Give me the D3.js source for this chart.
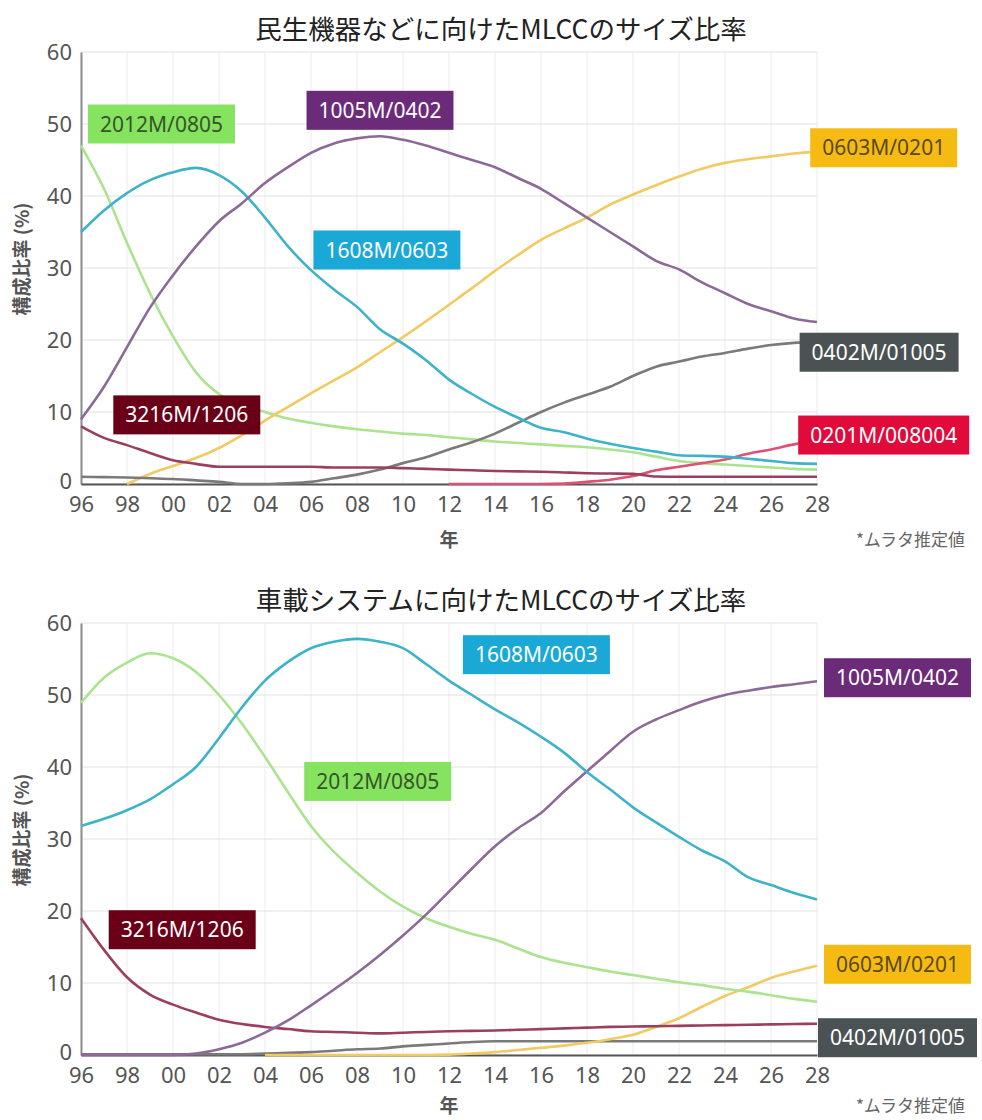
<!DOCTYPE html>
<html>
<head>
<meta charset="utf-8">
<script src="https://cdn.jsdelivr.net/npm/d3@7.9.0/dist/d3.min.js"></script>
<style>
  body { margin: 0; background: #fff; }
  svg { display: block; }
  text { font-family: "Noto Sans", "Noto Sans CJK JP", sans-serif; }
  .jp { font-family: "Noto Sans CJK JP", sans-serif; }
</style>
</head>
<body>
<svg id="chart" width="982" height="1120"></svg>
<script>
// years 1996 .. 2028
const years = d3.range(1996, 2029);
const xTicks = d3.range(1996, 2029, 2);
const yTicks = [0, 10, 20, 30, 40, 50, 60];

// 民生機器 (consumer) shares, %
const consumer2012 = [47, 41, 33.5, 26.5, 20.5, 15.5, 12.5, 11, 10, 9.1, 8.5, 8, 7.6, 7.3, 7, 6.8, 6.5, 6.2, 5.9, 5.7, 5.5, 5.3, 5.1, 4.8, 4.4, 3.8, 3.2, 2.9, 2.7, 2.5, 2.3, 2.1, 2.0];
const consumer1608 = [35, 38, 40.4, 42.2, 43.3, 43.9, 42.9, 40.6, 37, 33, 29.7, 27, 24.6, 21.5, 19.5, 17.2, 14.5, 12.5, 10.7, 9.2, 7.8, 7.2, 6.3, 5.6, 5.0, 4.5, 4.0, 3.9, 3.8, 3.5, 3.2, 2.9, 2.8];
const consumer1005 = [9, 13.5, 19, 24.5, 29, 33, 36.5, 39, 41.8, 44, 46, 47.3, 48, 48.3, 47.8, 47, 46, 45, 44, 42.5, 41, 39, 37, 35, 33, 31, 29.8, 28, 26.5, 25, 24, 23, 22.5];
const consumer0603 = [null, null, 0, 1.4, 2.5, 3.6, 5.0, 6.8, 8.8, 10.7, 12.6, 14.4, 16.2, 18.3, 20.4, 22.6, 24.9, 27.2, 29.6, 31.8, 33.9, 35.5, 37, 38.8, 40.2, 41.5, 42.7, 43.8, 44.6, 45.1, 45.5, 45.9, 46.2];
const consumer3216 = [8, 6.4, 5.4, 4.3, 3.3, 2.8, 2.4, 2.4, 2.4, 2.4, 2.4, 2.3, 2.3, 2.3, 2.2, 2.1, 2.0, 1.9, 1.8, 1.75, 1.7, 1.6, 1.5, 1.45, 1.4, 1.05, 1.0, 1.0, 1.0, 1.0, 1.0, 1.0, 1.0];
const consumer0402 = [1.0, 0.95, 0.9, 0.8, 0.7, 0.5, 0.3, 0, 0, 0.1, 0.3, 0.8, 1.3, 2.0, 2.9, 3.7, 4.8, 5.8, 7.0, 8.5, 10.0, 11.3, 12.4, 13.5, 15, 16.3, 17, 17.7, 18.2, 18.8, 19.3, 19.6, 19.7];
const consumer0201 = [null, null, null, null, null, null, null, null, null, null, null, null, null, null, null, null, 0, 0, 0, 0, 0, 0.05, 0.3, 0.6, 1.1, 1.9, 2.4, 2.9, 3.4, 4.2, 4.8, 5.5, 6.0];

// 車載システム (automotive) shares, %
const auto2012 = [48.9, 52.4, 54.5, 55.8, 55.1, 53.2, 50, 46, 41.4, 36.5, 31.8, 28.2, 25.3, 22.7, 20.6, 19, 17.8, 16.8, 16, 14.8, 13.6, 12.8, 12.2, 11.6, 11.1, 10.6, 10.1, 9.7, 9.2, 8.8, 8.3, 7.8, 7.4];
const auto1608 = [31.8, 32.8, 34, 35.5, 37.6, 40, 44, 48.3, 52, 54.6, 56.5, 57.4, 57.8, 57.4, 56.5, 54.3, 52, 50, 48, 46.2, 44.2, 42, 39.3, 36.9, 34.4, 32.3, 30.3, 28.4, 26.9, 24.7, 23.6, 22.5, 21.6];
const auto1005 = [0, 0, 0, 0, 0, 0.2, 0.8, 1.7, 3.1, 4.8, 6.9, 9.1, 11.4, 13.9, 16.6, 19.5, 22.7, 25.9, 29, 31.5, 33.6, 36.6, 39.4, 42.2, 44.9, 46.6, 47.9, 49.1, 50, 50.6, 51.1, 51.5, 51.9];
const auto3216 = [19, 14.6, 10.8, 8.4, 7, 5.9, 4.9, 4.3, 3.9, 3.6, 3.3, 3.2, 3.1, 3.0, 3.1, 3.2, 3.3, 3.35, 3.4, 3.5, 3.6, 3.7, 3.8, 3.9, 3.95, 4.0, 4.05, 4.1, 4.15, 4.2, 4.25, 4.3, 4.35];
const auto0603 = [null, null, null, null, null, null, null, null, 0, 0, 0, 0, 0, 0, 0, 0, 0.05, 0.2, 0.4, 0.7, 1.0, 1.3, 1.7, 2.2, 2.8, 3.9, 5.1, 6.7, 8.2, 9.4, 10.7, 11.6, 12.4];
const auto0402 = [0.1, 0.1, 0.1, 0.1, 0.1, 0.1, 0.1, 0.1, 0.2, 0.3, 0.4, 0.6, 0.8, 0.9, 1.2, 1.4, 1.6, 1.8, 1.9, 1.9, 1.9, 1.9, 1.9, 1.9, 1.9, 1.9, 1.9, 1.9, 1.9, 1.9, 1.9, 1.9, 1.9];

// size names and colours
const sizes = {
  s2012: { name: "2012M/0805", line: "#abe38f", box: "#86e35f", text: "#35552a" },
  s1608: { name: "1608M/0603", line: "#3db3c9", box: "#1aa8d6", text: "#fff" },
  s1005: { name: "1005M/0402", line: "#8b6a97", box: "#6b2b78", text: "#fff" },
  s0603: { name: "0603M/0201", line: "#f0cb62", box: "#f6bb12", text: "#5a4a1a" },
  s3216: { name: "3216M/1206", line: "#9b3f5f", box: "#6a0018", text: "#fff" },
  s0402: { name: "0402M/01005", line: "#7a7a7a", box: "#4b5254", text: "#fff" },
  s0201: { name: "0201M/008004", line: "#dd5272", box: "#e20a3b", text: "#fff" }
};

const charts = [
  {
    title: "民生機器などに向けたMLCCのサイズ比率",
    top: 52,
    footY: 547,
    series: [
      ["s2012", consumer2012], ["s0603", consumer0603], ["s0402", consumer0402],
      ["s0201", consumer0201], ["s3216", consumer3216], ["s1608", consumer1608], ["s1005", consumer1005]
    ],
    // label centres in chart units [year, value]
    labels: [
      ["s2012", 1999.5, 50], ["s1005", 2009.0, 51.9], ["s1608", 2009.3, 32.5],
      ["s0603", 2030.9, 46.7], ["s3216", 2000.6, 9.6], ["s0402", 2030.7, 18.3], ["s0201", 2030.9, 6.8]
    ]
  },
  {
    title: "車載システムに向けたMLCCのサイズ比率",
    top: 623,
    footY: 1113,
    series: [
      ["s0402", auto0402], ["s0603", auto0603], ["s3216", auto3216],
      ["s2012", auto2012], ["s1005", auto1005], ["s1608", auto1608]
    ],
    labels: [
      ["s1608", 2015.8, 55.6], ["s1005", 2031.5, 52.4], ["s2012", 2008.9, 38],
      ["s3216", 2000.4, 17.4], ["s0603", 2031.5, 12.6], ["s0402", 2031.5, 2.4]
    ]
  }
];

const svg = d3.select("#chart");
const plotH = 432;
const x = d3.scaleLinear().domain([1996, 2028]).range([81, 817]);

charts.forEach(chart => {
  const y = d3.scaleLinear().domain([0, 60]).range([chart.top + plotH, chart.top]);
  const g = svg.append("g");

  // grid
  g.append("g").selectAll("line").data(xTicks).join("line")
    .attr("x1", d => x(d)).attr("x2", d => x(d))
    .attr("y1", y(60)).attr("y2", y(0))
    .attr("stroke", "#ececec").attr("stroke-width", 1);
  g.append("g").selectAll("line").data(yTicks).join("line")
    .attr("x1", x(1996)).attr("x2", x(2028))
    .attr("y1", d => y(d)).attr("y2", d => y(d))
    .attr("stroke", "#e2e2e2").attr("stroke-width", 1);

  // axes
  const yAxis = g.append("g")
    .attr("transform", `translate(${x(1996)},0)`)
    .call(d3.axisLeft(y).tickValues(yTicks).tickSize(0).tickPadding(9));
  yAxis.select(".domain").attr("stroke", "#8c8c8c").attr("stroke-width", 2);
  yAxis.selectAll("text").attr("font-size", 22).attr("fill", "#555")
    .style("font-family", "'Noto Sans', sans-serif");
  yAxis.selectAll(".tick").filter(d => d === 0).select("text").attr("dy", "0.2em");

  const xAxis = g.append("g")
    .attr("transform", `translate(0,${y(0)})`)
    .call(d3.axisBottom(x).tickValues(xTicks).tickSize(0).tickPadding(12)
      .tickFormat(d => String(d % 100).padStart(2, "0")));
  xAxis.select(".domain").attr("stroke", "#555").attr("stroke-width", 2);
  xAxis.selectAll("text").attr("font-size", 22).attr("fill", "#555")
    .style("font-family", "'Noto Sans', sans-serif");

  // lines
  const line = d3.line()
    .defined(d => d[1] != null)
    .x(d => x(d[0]))
    .y(d => y(d[1]))
    .curve(d3.curveMonotoneX);

  chart.series.forEach(([key, vals]) => {
    g.append("path")
      .datum(years.map((yr, i) => [yr, vals[i]]))
      .attr("d", line)
      .attr("fill", "none")
      .attr("stroke", sizes[key].line)
      .attr("stroke-width", 2.6)
      .attr("stroke-linejoin", "round");
  });

  // labels
  chart.labels.forEach(([key, yr, v]) => {
    const s = sizes[key];
    const lg = g.append("g");
    const t = lg.append("text")
      .attr("x", x(yr)).attr("y", y(v))
      .attr("text-anchor", "middle").attr("dy", "0.36em")
      .attr("font-size", 21).attr("fill", s.text)
      .text(s.name);
    const w = t.node().getComputedTextLength() + 24;
    lg.insert("rect", "text")
      .attr("x", x(yr) - w / 2).attr("y", y(v) - 19.5)
      .attr("width", w).attr("height", 39)
      .attr("fill", s.box);
  });

  // titles and axis names
  svg.append("text").attr("class", "jp")
    .attr("x", 501).attr("y", chart.top - 13)
    .attr("text-anchor", "middle").attr("font-size", 26.5).attr("fill", "#222")
    .text(chart.title);

  svg.append("text").attr("class", "jp")
    .attr("transform", `translate(29,${chart.top + 207}) rotate(-90)`)
    .attr("text-anchor", "middle").attr("font-size", 19).attr("font-weight", 700).attr("fill", "#555")
    .text("構成比率 (%)");

  svg.append("text").attr("class", "jp")
    .attr("x", 449).attr("y", chart.footY)
    .attr("text-anchor", "middle").attr("font-size", 19).attr("font-weight", 700).attr("fill", "#555")
    .text("年");

  svg.append("text").attr("class", "jp")
    .attr("x", 965).attr("y", chart.footY - 1)
    .attr("text-anchor", "end").attr("font-size", 17).attr("fill", "#666")
    .text("*ムラタ推定値");
});
</script>
</body>
</html>
